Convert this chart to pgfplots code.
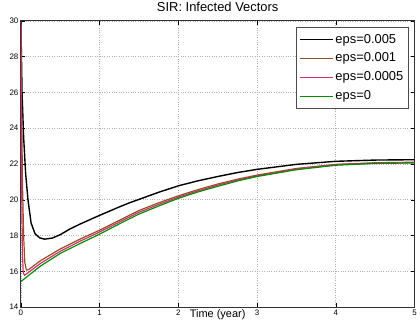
\documentclass[border=0pt]{standalone}
\usepackage{pgfplots}
\pgfplotsset{compat=1.18}
\usepackage{fontspec}
\setmainfont{Liberation Sans}
\definecolor{cBrown}{RGB}{150,78,38}
\definecolor{cPink}{RGB}{205,50,110}
\definecolor{cGreen}{RGB}{0,140,0}
\begin{document}
\begin{tikzpicture}
\begin{axis}[
  scale only axis,
  width=396pt, height=288pt,
  xmin=0, xmax=5, ymin=14, ymax=30,
  xtick={0,1,2,3,4,5}, ytick={14,16,18,20,22,24,26,28,30},
  /pgf/number format/assume math mode=true,
  tick label style={font=\fontsize{8}{9}\selectfont},
  xticklabel style={yshift=1pt},
  yticklabel style={xshift=1pt},
  major tick length=4pt,
  tick style={black, line width=0.5pt},
  axis line style={black!80, line width=0.8pt},
  grid=major,
  major grid style={gray!60, dotted, line width=0.6pt},
  title={SIR: Infected Vectors},
  title style={font=\fontsize{13}{15}\selectfont, at={(0.5,1)}, anchor=south, inner sep=0pt, yshift=3pt},
  xlabel={Time (year)},
  xlabel style={font=\fontsize{11}{13}\selectfont, at={(axis description cs:0.5,0)}, anchor=north, inner sep=0pt, yshift=-2pt},
  legend style={font=\fontsize{13}{15}\selectfont, at={(1,1)}, anchor=north east, xshift=-6pt, yshift=-6pt, draw=black!70, inner xsep=3pt, inner ysep=5pt, row sep=4.5pt, column sep=0pt},
  legend cell align=left,
  legend image code/.code={\draw[#1] (0pt,0pt) -- (20pt,0pt); \path (-3pt,0pt) -- (30pt,0pt);},
  every axis plot/.append style={line join=round},
]
\addplot[black, line width=1.4pt] coordinates {
(0,30) (0.015,26) (0.035,23.5) (0.06,21.5) (0.09,20.0) (0.13,18.7) (0.18,18.1) (0.24,17.87) (0.3,17.8) (0.4,17.86) (0.5,18.05) (0.62,18.36) (0.75,18.64) (1,19.13) (1.25,19.6) (1.38,19.83) (1.5,20.02) (1.75,20.42) (2,20.78) (2.25,21.06) (2.5,21.3) (2.75,21.52) (3,21.7) (3.5,21.98) (4,22.15) (4.5,22.22) (5,22.24)
};
\addlegendentry{eps=0.005}
\addplot[cBrown, line width=1.2pt] coordinates {
(0,30) (0.01,25) (0.02,21) (0.035,18) (0.05,16.5) (0.07,16.07) (0.1,16.1) (0.25,16.6) (0.5,17.25) (0.75,17.8) (1,18.3) (1.25,18.85) (1.5,19.4) (1.75,19.83) (2,20.22) (2.25,20.57) (2.5,20.88) (2.75,21.15) (3,21.38) (3.5,21.75) (4,21.98) (4.5,22.07) (5,22.1)
};
\addlegendentry{eps=0.001}
\addplot[cPink, line width=1.2pt] coordinates {
(0,30) (0.005,25) (0.012,20) (0.02,17) (0.03,15.95) (0.045,15.78) (0.07,15.85) (0.25,16.45) (0.5,17.12) (0.75,17.68) (1,18.2) (1.25,18.75) (1.5,19.3) (1.75,19.74) (2,20.15) (2.25,20.5) (2.5,20.82) (2.75,21.1) (3,21.34) (3.5,21.72) (4,21.96) (4.5,22.05) (5,22.08)
};
\addlegendentry{eps=0.0005}
\addplot[cGreen, line width=1.2pt] coordinates {
(0,15.43) (0.25,16.3) (0.5,17.0) (0.75,17.55) (1,18.08) (1.25,18.65) (1.5,19.2) (1.75,19.65) (2,20.08) (2.25,20.44) (2.5,20.75) (2.75,21.05) (3,21.3) (3.5,21.68) (4,21.93) (4.5,22.03) (5,22.06)
};
\addlegendentry{eps=0}
\end{axis}
\path[use as bounding box] (-21pt,-12pt) rectangle (399pt,309pt);
\end{tikzpicture}
\end{document}
